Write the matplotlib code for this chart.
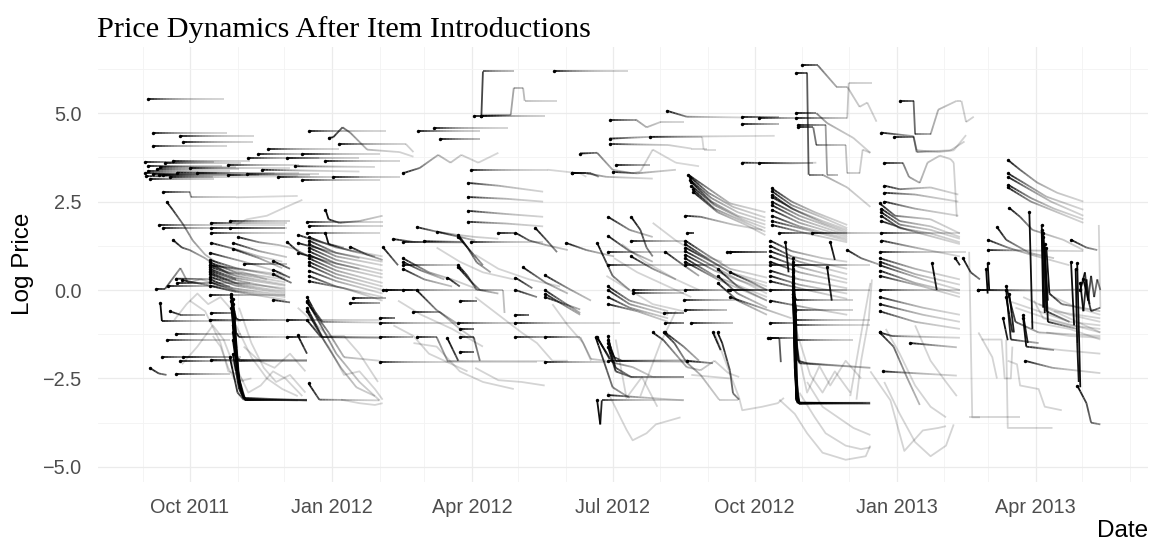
import numpy as np
import matplotlib.pyplot as plt
import matplotlib.dates as mdates
from matplotlib.collections import LineCollection
from matplotlib.ticker import FuncFormatter, NullFormatter

# every item: (days since 2011-09-01, log price); the first point is the introduction
intro_2011_09 = [
    [(3, 5.41), (52, 5.41)],
    [(6, 4.45), (54, 4.45)],
    [(24, 4.36), (72, 4.36)],
    [(26, 4.19), (71, 4.19)],
    [(6, 4.06), (54, 4.06)],
    [(1, 3.62), (46, 3.62)],
    [(3, 3.52), (51, 3.52)],
    [(14, 3.58), (63, 3.58)],
    [(19, 3.66), (69, 3.66)],
    [(11, 3.48), (60, 3.48)],
    [(9, 3.42), (62, 3.42)],
    [(3, 3.36), (56, 3.36)],
    [(1, 3.30), (48, 3.30)],
    [(6, 3.27), (55, 3.27)],
    [(13, 3.24), (63, 3.24)],
    [(17, 3.20), (69, 3.20), (100, 3.22)],
    [(4, 3.14), (46, 3.14)],
    [(2, 3.22), (45, 3.20)],
    [(22, 3.32), (85, 3.30)],
    [(30, 3.45), (95, 3.45)],
    [(10, 3.26), (75, 3.26)],
    [(35, 3.30), (101, 3.30)],
    [(13, 2.78), (30, 2.78), (31, 2.62), (60, 2.62), (100, 2.66)],
    [(15, 2.50), (19, 2.27), (26, 1.84), (32, 1.40), (40, 1.00), (50, 0.70), (65, 0.50), (80, 0.30)],
    [(10, 1.84), (92, 1.84)],
    [(13, 1.75), (92, 1.75)],
    [(19, 1.42), (25, 1.20), (30, 1.13), (40, 0.90), (50, 0.60), (60, 0.30)],
    [(8, 0.03), (14, 0.03), (24, 0.62), (29, 0.20), (37, 0.30), (50, 0.15)],
    [(16, 0.10), (56, 0.10)],
    [(22, 0.20), (69, 0.20)],
    [(21, 0.32), (60, 0.30)],
    [(25, 0.28), (46, 0.10), (60, -0.05)],
    [(11, -0.37), (12, -0.88), (63, -0.88)],
    [(17, -0.60), (24, -0.70), (40, -0.70)],
    [(15, -1.42), (56, -1.42)],
    [(21, -1.25), (63, -1.25)],
    [(12, -1.90), (56, -1.90)],
    [(24, -2.00), (106, -2.00)],
    [(4, -2.20), (10, -2.36), (15, -2.40)],
    [(21, -2.38), (56, -2.38)],
    [(26, -1.90), (63, -1.90)],
]

intro_2011_10 = [
    [(44, 1.90), (93, 1.90)],
    [(56, 1.96), (95, 1.96)],
    [(44, 1.75), (93, 1.75)],
    [(56, 1.75), (92, 1.75)],
    [(44, 1.60), (92, 1.60)],
    [(44, 1.33), (60, 1.15), (75, 0.95), (90, 0.80)],
    [(61, 1.50), (75, 1.35), (88, 1.27), (101, 1.13)],
    [(58, 1.33), (75, 1.10), (93, 0.93)],
    [(58, 1.16), (75, 0.90), (90, 0.62)],
    [(43, 1.05), (65, 0.80), (90, 0.48)],
    [(43, 0.85), (60, 0.62), (92, 0.35)],
    [(43, 0.78), (60, 0.50), (92, 0.30)],
    [(43, 0.72), (55, 0.50), (92, 0.22)],
    [(43, 0.66), (60, 0.40), (92, 0.15)],
    [(43, 0.60), (58, 0.35), (92, 0.12)],
    [(43, 0.55), (60, 0.28), (92, 0.00)],
    [(43, 0.50), (60, 0.20), (92, 0.05)],
    [(43, 0.45), (62, 0.15), (92, -0.05)],
    [(43, 0.38), (60, 0.12), (92, -0.10)],
    [(43, 0.30), (58, 0.05), (92, -0.15)],
    [(43, 0.22), (60, -0.02), (92, -0.20)],
    [(43, 0.12), (60, -0.05), (92, -0.28)],
    [(43, 0.70), (70, 0.55), (92, 0.42)],
    [(65, 0.74), (93, 0.74)],
    [(84, 0.82), (95, 0.60)],
    [(84, 0.57), (95, 0.35)],
    [(84, 0.45), (96, 0.20)],
    [(93, 1.36), (100, 1.10), (110, 0.90)],
    [(43, -0.14), (92, -0.14)],
    [(84, -0.28), (95, -0.35)],
    [(44, -0.65), (58, -0.65)],
    [(43, -0.85), (92, -0.85)],
    [(57, -0.15), (60, -1.50), (62, -2.60), (65, -3.05), (106, -3.12)],
    [(57, -0.30), (60, -1.90), (63, -2.90), (66, -3.08), (106, -3.12)],
    [(58, -0.60), (61, -2.20), (64, -3.00), (67, -3.10), (106, -3.10)],
    [(58, -1.00), (61, -2.40), (65, -3.05), (106, -3.12)],
    [(58, -1.40), (62, -2.70), (66, -3.10), (106, -3.12)],
    [(58, -1.80), (62, -2.80), (66, -3.10), (106, -3.10)],
    [(56, -1.90), (61, -2.90), (65, -3.10), (100, -3.12)],
    [(59, -0.80), (62, -2.50), (66, -3.10), (106, -3.12)],
    [(57, -0.50), (61, -2.30), (65, -3.08), (106, -3.10)],
    [(58, -1.20), (62, -2.60), (66, -3.12), (106, -3.12)],
    [(57, -0.10), (60, -1.95), (62, -2.00), (106, -2.00)],
    [(57, -0.20), (60, -1.90), (63, -1.98), (106, -1.98)],
    [(58, -0.25), (60, -1.20), (62, -1.33), (106, -1.33)],
    [(58, -0.40), (60, -0.80), (62, -0.85), (106, -0.85)],
    [(93, -0.85), (153, -0.85)],
    [(93, -1.33), (153, -1.33)],
    [(44, -1.98), (106, -1.98)],
    [(55, 3.54), (101, 3.54)],
    [(68, 3.72), (114, 3.72)],
    [(74, 3.86), (121, 3.86)],
    [(81, 4.00), (127, 4.00)],
    [(93, 3.74), (140, 3.74)],
    [(87, 3.20), (140, 3.20)],
    [(67, 3.28), (114, 3.28)],
    [(55, 3.24), (108, 3.24)],
    [(77, 3.40), (140, 3.35)],
]

intro_2011_12 = [
    [(103, 3.86), (153, 3.86)],
    [(103, 3.12), (153, 3.12)],
    [(118, 3.65), (166, 3.65)],
    [(123, 3.20), (166, 3.20)],
    [(107, 4.50), (157, 4.50)],
    [(127, 4.13), (170, 4.13), (175, 3.90)],
    [(120, 4.30), (123, 4.32), (129, 4.60), (134, 4.45), (145, 3.97), (166, 3.90), (175, 3.77)],
    [(98, 3.50), (150, 3.48)],
    [(106, 1.93), (155, 1.93)],
    [(107, 1.80), (155, 1.80)],
    [(106, 1.60), (153, 1.60)],
    [(100, 1.56), (115, 1.35), (130, 1.20)],
    [(100, 1.33), (120, 1.10), (140, 0.90)],
    [(100, 1.05), (120, 0.80), (140, 0.60)],
    [(118, 2.27), (120, 2.00), (127, 1.90), (140, 1.95), (155, 2.10)],
    [(118, 1.60), (120, 1.30), (135, 1.10), (150, 0.95)],
    [(107, 1.50), (125, 1.20), (155, 0.95)],
    [(107, 1.40), (125, 1.05), (155, 0.80)],
    [(107, 1.30), (125, 0.95), (155, 0.70)],
    [(107, 1.20), (125, 0.85), (155, 0.55)],
    [(107, 1.10), (125, 0.75), (155, 0.45)],
    [(107, 1.00), (125, 0.65), (155, 0.35)],
    [(107, 0.90), (125, 0.55), (155, 0.20)],
    [(107, 0.80), (125, 0.45), (155, 0.10)],
    [(107, 0.70), (125, 0.35), (155, 0.00)],
    [(107, 0.55), (125, 0.25), (155, -0.10)],
    [(107, 0.40), (125, 0.10), (155, -0.20)],
    [(107, 0.25), (130, 0.05), (155, -0.30)],
    [(134, 1.22), (145, 1.00), (155, 0.85)],
    [(136, -0.23), (157, -0.23)],
    [(155, 0.00), (175, 0.00)],
    [(134, -0.37), (153, -0.37)],
    [(106, -0.20), (111, -0.60), (116, -0.90), (153, -0.92)],
    [(106, -0.50), (116, -1.33), (153, -1.35)],
    [(106, -0.85), (115, -1.33), (153, -1.35)],
    [(106, -0.35), (120, -1.20), (130, -1.90), (153, -2.00)],
    [(106, -0.60), (118, -1.50), (128, -2.20), (138, -2.75), (150, -3.00)],
    [(106, -0.30), (115, -1.00), (125, -1.80), (140, -2.60), (153, -3.12)],
    [(100, -1.28), (106, -1.80)],
    [(107, -2.64), (114, -3.10), (153, -3.12)],
]

intro_2012_02 = [
    [(155, 1.22), (165, 0.70)],
    [(168, 1.36), (207, 1.36)],
    [(162, 1.44), (175, 1.36), (207, 1.34)],
    [(182, 1.38), (207, 1.36)],
    [(212, 1.36), (259, 1.36)],
    [(177, 1.78), (190, 1.65), (203, 1.56), (215, 1.50), (230, 1.45)],
    [(190, 1.65), (200, 1.55), (215, 1.40)],
    [(204, 1.56), (210, 1.20), (216, 0.78), (225, 0.50)],
    [(204, 1.50), (212, 1.10), (220, 0.70)],
    [(230, 1.60), (240, 1.60)],
    [(241, 1.62), (250, 1.40), (261, 1.27), (275, 1.13)],
    [(254, 1.75), (261, 1.42), (268, 1.07)],
    [(274, 1.33), (287, 1.13), (305, 0.95)],
    [(294, 1.33), (304, 0.40), (315, 0.00)],
    [(168, 0.72), (204, 0.72)],
    [(168, 0.90), (185, 0.50), (200, 0.30), (215, 0.05)],
    [(168, 0.80), (180, 0.55), (195, 0.30)],
    [(168, 0.60), (182, 0.30), (200, 0.10)],
    [(157, 0.00), (177, 0.00)],
    [(168, 0.00), (216, 0.00)],
    [(177, 0.00), (190, -0.57), (203, -0.94)],
    [(197, 0.35), (205, 0.10)],
    [(204, 0.70), (210, 0.40), (216, 0.00), (233, 0.00), (234, -0.65)],
    [(204, 0.64), (212, 0.25), (218, 0.00), (230, -0.10)],
    [(205, -0.30), (216, -0.30)],
    [(241, 0.35), (252, 0.05)],
    [(241, 0.00), (255, -0.20)],
    [(246, 0.64), (261, 0.20), (275, -0.10)],
    [(260, 0.42), (275, 0.05), (290, -0.30)],
    [(260, 0.00), (283, -0.65)],
    [(260, -0.10), (283, -0.70)],
    [(260, -0.20), (283, -0.55)],
    [(241, -0.70), (250, -0.70)],
    [(153, -0.80), (163, -0.80)],
    [(153, -0.92), (203, -0.92)],
    [(204, -0.92), (242, -0.92)],
    [(241, -0.92), (309, -0.92)],
    [(175, -0.62), (192, -0.62), (205, -1.10), (215, -1.40)],
    [(205, -1.10), (214, -1.10)],
    [(205, -1.33), (214, -1.33), (218, -2.00)],
    [(153, -1.33), (175, -1.33)],
    [(177, -1.33), (190, -1.33), (197, -2.00), (260, -2.00)],
    [(241, -1.33), (260, -1.33)],
    [(260, -1.33), (283, -1.33), (290, -1.95), (300, -2.00)],
    [(197, -1.37), (204, -2.00)],
    [(205, -1.75), (214, -1.75)],
    [(294, -1.33), (302, -1.95)],
    [(153, -2.03), (255, -2.03)],
    [(260, -2.03), (302, -2.03)],
    [(178, 4.50), (218, 4.50)],
    [(188, 4.58), (236, 4.58)],
    [(192, 4.28), (218, 4.28)],
    [(214, 4.93), (219, 4.93), (220, 6.18), (240, 6.18)],
    [(219, 4.93), (238, 4.95), (240, 5.72), (246, 5.72), (247, 5.35), (268, 5.35)],
    [(219, 4.93), (260, 4.93)],
    [(266, 6.18), (314, 6.18)],
    [(168, 3.30), (179, 3.45), (191, 3.82), (199, 3.60), (206, 3.82), (217, 3.60), (230, 3.88)],
    [(212, 3.40), (262, 3.40), (283, 3.30), (287, 3.20)],
    [(210, 3.03), (230, 2.95), (259, 2.78)],
    [(210, 2.63), (235, 2.58), (259, 2.50)],
    [(210, 2.24), (235, 2.15), (259, 2.07)],
    [(210, 1.93), (235, 1.88), (259, 1.80)],
    [(278, 3.30), (290, 3.30), (295, 3.20)],
]

intro_2012_07 = [
    [(302, 4.82), (319, 4.82), (326, 4.60), (335, 4.75), (350, 4.75)],
    [(302, 4.28), (328, 4.33), (362, 4.33), (363, 3.97), (371, 3.97)],
    [(328, 4.33), (409, 4.36)],
    [(302, 4.13), (340, 4.10), (355, 4.00), (365, 4.00)],
    [(283, 3.86), (294, 3.88), (304, 3.40), (317, 3.30), (322, 3.35), (330, 3.97), (345, 3.60), (360, 3.50)],
    [(306, 3.54), (328, 3.54)],
    [(304, 3.34), (320, 3.30), (345, 3.40)],
    [(278, 3.30), (287, 3.30), (300, 3.20), (330, 3.15)],
    [(339, 5.07), (352, 4.90), (387, 4.88)],
    [(388, 4.90), (412, 4.90)],
    [(388, 4.70), (412, 4.70)],
    [(388, 3.60), (420, 3.58), (436, 3.60)],
    [(353, 3.26), (365, 2.90), (380, 2.45), (403, 2.20)],
    [(354, 3.20), (366, 2.75), (382, 2.35), (403, 2.05)],
    [(354, 3.12), (368, 2.60), (385, 2.20), (403, 1.95)],
    [(355, 3.05), (368, 2.50), (385, 2.10), (403, 1.85)],
    [(355, 2.95), (370, 2.40), (388, 2.00), (403, 1.75)],
    [(356, 2.85), (370, 2.30), (388, 1.95), (403, 1.65)],
    [(356, 2.78), (372, 2.20), (390, 1.85), (403, 1.55)],
    [(351, 2.10), (361, 2.07), (382, 1.85), (401, 1.70)],
    [(301, 2.07), (315, 1.70), (330, 1.50)],
    [(316, 2.07), (322, 1.70), (326, 1.20), (330, 0.95)],
    [(301, 1.53), (315, 1.10), (330, 0.80)],
    [(316, 1.39), (350, 1.39)],
    [(352, 1.60), (357, 1.60)],
    [(301, 1.08), (350, 1.08)],
    [(378, 1.08), (404, 1.08)],
    [(316, 0.95), (330, 0.60), (345, 0.30)],
    [(338, 1.08), (350, 0.70), (360, 0.40)],
    [(301, 0.70), (350, 0.70)],
    [(351, 0.70), (445, 0.70)],
    [(317, 0.00), (350, 0.00)],
    [(351, 0.00), (404, 0.00)],
    [(379, 0.00), (445, 0.00)],
    [(317, -0.08), (350, -0.08)],
    [(350, -0.28), (386, -0.28)],
    [(337, -0.65), (350, -0.65)],
    [(351, -0.57), (378, -0.57)],
    [(338, -0.92), (350, -0.92)],
    [(355, -0.92), (382, -0.92)],
    [(369, -1.20), (374, -1.70)],
    [(338, -1.20), (350, -1.60), (360, -2.00)],
    [(301, 0.10), (315, -0.30), (340, -0.60)],
    [(301, 0.00), (315, -0.40), (340, -0.70)],
    [(301, -0.20), (315, -0.50), (340, -0.80)],
    [(301, -0.40), (320, -0.60), (340, -0.90)],
    [(351, 1.40), (365, 1.00), (380, 0.60), (404, 0.35)],
    [(351, 1.30), (365, 0.90), (380, 0.50), (404, 0.20)],
    [(351, 1.20), (368, 0.80), (385, 0.40), (404, 0.10)],
    [(351, 1.10), (368, 0.70), (385, 0.30), (404, 0.00)],
    [(351, 1.00), (370, 0.55), (390, 0.20), (404, -0.10)],
    [(351, 0.90), (370, 0.40), (404, -0.20)],
    [(351, 0.80), (372, 0.30), (404, -0.30)],
    [(372, 0.60), (385, 0.10), (404, -0.30)],
    [(372, 0.40), (385, -0.10), (404, -0.50)],
    [(372, 0.20), (385, -0.30), (404, -0.70)],
    [(380, 1.08), (404, 1.08)],
    [(380, 0.50), (395, 0.20), (404, 0.00)],
    [(380, 0.00), (445, 0.00)],
    [(380, -0.20), (400, -0.50), (420, -0.80)],
    [(301, -1.30), (303, -1.70), (306, -2.00), (354, -2.00)],
    [(301, -1.40), (305, -1.90), (310, -2.00), (353, -1.98)],
    [(301, -1.50), (306, -2.20), (316, -2.46), (350, -2.46)],
    [(301, -1.60), (306, -2.30), (316, -2.46), (350, -2.46)],
    [(293, -1.33), (304, -2.75), (315, -3.05)],
    [(294, -3.12), (296, -3.80), (297, -3.12), (350, -3.12)],
    [(301, -2.97), (350, -3.12)],
    [(301, -2.00), (361, -2.04)],
    [(294, -1.35), (304, -2.05), (317, -2.18), (330, -2.46), (350, -2.46)],
    [(330, -1.20), (337, -1.42), (352, -2.18), (361, -2.27), (370, -2.00), (379, -2.35), (386, -2.46)],
    [(372, -1.20), (375, -1.50), (380, -2.27), (382, -2.92), (386, -3.10)],
    [(337, -1.20), (344, -1.50), (352, -2.05), (361, -2.40), (373, -3.10), (385, -3.10)],
    [(352, -2.00), (369, -2.07)],
]

intro_2012_10 = [
    [(427, 6.35), (437, 6.35), (449, 5.75), (456, 5.75), (464, 5.18), (469, 5.30), (475, 4.76)],
    [(423, 6.15), (430, 6.15), (431, 3.26), (440, 3.26), (456, 2.90), (471, 2.35)],
    [(423, 5.00), (436, 5.00), (443, 4.72), (460, 4.30), (471, 3.88)],
    [(423, 4.85), (456, 4.85), (457, 5.86), (472, 5.86)],
    [(424, 4.67), (442, 4.67), (443, 3.26), (450, 3.26)],
    [(424, 4.60), (434, 4.60), (436, 4.10), (455, 4.10), (456, 3.30), (464, 3.30), (466, 3.97), (471, 3.88)],
    [(399, 4.87), (423, 4.87)],
    [(399, 3.60), (434, 3.60)],
    [(407, 2.88), (420, 2.50), (435, 2.20), (456, 1.84)],
    [(407, 2.80), (420, 2.40), (440, 2.05), (456, 1.75)],
    [(407, 2.70), (420, 2.30), (440, 1.95), (456, 1.70)],
    [(407, 2.63), (425, 2.20), (440, 1.90), (456, 1.65)],
    [(407, 2.50), (425, 2.10), (456, 1.60)],
    [(407, 2.40), (425, 2.00), (456, 1.55)],
    [(407, 2.27), (425, 1.90), (456, 1.50)],
    [(407, 2.10), (425, 1.80), (456, 1.45)],
    [(407, 1.95), (430, 1.70), (456, 1.40)],
    [(407, 1.84), (430, 1.60), (456, 1.35)],
    [(406, 1.40), (420, 1.10), (440, 0.90), (456, 0.80)],
    [(406, 1.25), (420, 0.95), (440, 0.75), (456, 0.60)],
    [(406, 1.10), (425, 0.80), (456, 0.45)],
    [(406, 0.95), (425, 0.65), (456, 0.30)],
    [(406, 0.80), (425, 0.50), (456, 0.20)],
    [(406, 0.70), (456, 0.70)],
    [(406, 0.55), (425, 0.30), (456, 0.05)],
    [(406, 0.40), (425, 0.15), (456, -0.10)],
    [(406, 0.25), (430, 0.00), (456, -0.25)],
    [(406, 0.00), (456, 0.00)],
    [(406, -0.92), (421, -0.92)],
    [(406, -1.35), (421, -1.35)],
    [(406, -0.30), (430, -0.50), (456, -0.70)],
    [(421, 0.80), (422, -1.50), (423, -3.10), (424, -3.20), (471, -3.20)],
    [(421, 0.60), (422, -2.00), (424, -3.20), (471, -3.20)],
    [(421, 0.40), (423, -2.50), (425, -3.20), (471, -3.22)],
    [(421, 0.20), (423, -2.80), (425, -3.20), (471, -3.20)],
    [(421, 0.00), (423, -3.00), (425, -3.20), (471, -3.18)],
    [(421, -0.20), (423, -3.10), (425, -3.22), (471, -3.22)],
    [(421, -0.40), (423, -3.10), (425, -3.20), (466, -3.20)],
    [(422, -0.60), (424, -3.15), (426, -3.20), (471, -3.20)],
    [(421, 0.90), (422, -2.20), (424, -3.18), (471, -3.20)],
    [(421, -0.10), (423, -2.90), (425, -3.20), (468, -3.20)],
    [(421, 0.70), (423, -1.00), (424, -2.00), (430, -2.07), (471, -2.20)],
    [(421, 0.30), (423, -1.50), (425, -2.07), (471, -2.20)],
    [(421, 0.50), (422, -0.40), (423, -1.42), (460, -1.42)],
    [(421, 0.10), (423, -0.85), (471, -0.85)],
    [(421, 0.00), (423, -0.57), (460, -0.57)],
    [(421, -0.10), (423, -0.28), (460, -0.28)],
    [(421, 0.70), (471, 0.70)],
    [(421, 0.00), (471, 0.00)],
    [(421, 0.20), (423, -1.00), (471, -1.00)],
    [(416, 1.36), (418, 0.50)],
    [(445, 1.36), (448, 0.85)],
    [(443, 0.65), (446, -0.30)],
    [(456, 1.13), (465, 0.90), (478, 0.70)],
    [(405, -1.36), (412, -1.36), (413, -2.04)],
    [(433, 1.60), (478, 1.60)],
    [(412, 1.60), (456, 1.60)],
]

intro_2012_12 = [
    [(477, 2.45), (487, 2.10), (510, 2.00), (529, 1.60)],
    [(478, 2.30), (490, 1.95), (510, 1.80), (529, 1.50)],
    [(478, 2.20), (490, 1.85), (510, 1.70), (529, 1.45)],
    [(478, 2.10), (490, 1.75), (510, 1.60), (529, 1.35)],
    [(478, 1.95), (495, 1.70), (529, 1.30)],
    [(478, 1.60), (529, 1.60)],
    [(478, 1.40), (500, 1.20), (529, 0.95)],
    [(477, 1.08), (533, 1.08)],
    [(477, 0.90), (500, 0.60), (529, 0.30)],
    [(477, 0.80), (500, 0.45), (529, 0.15)],
    [(477, 0.70), (505, 0.30), (529, 0.00)],
    [(477, 0.55), (500, 0.20), (529, -0.10)],
    [(477, 0.40), (505, 0.10), (529, -0.20)],
    [(477, 0.00), (529, 0.00)],
    [(477, -0.20), (505, -0.50), (529, -0.70)],
    [(477, -0.40), (505, -0.70), (529, -0.90)],
    [(477, -0.60), (500, -0.90), (529, -1.10)],
    [(477, -1.20), (485, -1.30), (529, -1.35)],
    [(479, -2.30), (527, -2.42)],
    [(477, -1.20), (486, -1.60), (495, -2.50), (503, -3.25)],
    [(497, -1.50), (527, -1.62)],
    [(511, 0.76), (514, 0.00)],
    [(526, 0.90), (529, 0.70)],
    [(478, 4.45), (499, 4.35), (501, 3.95), (515, 3.90), (525, 3.95), (533, 4.38)],
    [(490, 5.35), (499, 5.35), (500, 4.40), (510, 4.40), (515, 5.10), (527, 5.35), (530, 5.35), (533, 4.75), (538, 4.90)],
    [(486, 4.33), (499, 4.33), (501, 3.90), (523, 3.95), (532, 4.20)],
    [(480, 3.60), (492, 3.60), (496, 3.20), (503, 3.03), (508, 3.60), (516, 3.80), (523, 3.70), (525, 3.60), (527, 2.07)],
    [(480, 2.95), (490, 2.85), (510, 2.90), (528, 2.70)],
    [(480, 2.75), (500, 2.70), (528, 2.50)],
    [(480, 2.50), (500, 2.30), (528, 2.10)],
    [(531, 0.90), (536, 0.50), (542, 0.30)],
]

intro_2013_03 = [
    [(560, 3.68), (568, 3.40), (579, 3.04), (592, 2.75), (609, 2.50)],
    [(560, 3.30), (570, 3.04), (585, 2.64), (609, 2.27)],
    [(560, 3.20), (572, 2.90), (588, 2.50), (609, 2.10)],
    [(560, 2.98), (575, 2.60), (590, 2.30), (609, 2.00)],
    [(560, 2.90), (575, 2.50), (592, 2.20), (609, 1.90)],
    [(561, 2.32), (568, 2.07), (576, 1.70), (596, 1.42), (609, 1.13)],
    [(601, 1.42), (611, 1.20), (618, 1.13)],
    [(547, 1.42), (560, 1.20), (575, 1.00), (600, 0.70)],
    [(547, 1.13), (609, 1.10)],
    [(553, 1.78), (559, 1.42), (574, 1.05), (590, 0.90)],
    [(547, 0.75), (548, 0.00)],
    [(546, 0.60), (547, -0.10)],
    [(541, 0.00), (609, 0.00)],
    [(541, 0.00), (583, -0.02), (609, 0.02)],
    [(559, -0.20), (563, -1.20)],
    [(557, -0.80), (560, -1.42)],
    [(559, 0.10), (565, -0.90), (580, -1.20), (620, -1.30)],
    [(559, 0.00), (562, -1.40), (580, -1.50)],
    [(561, -0.10), (564, -1.20)],
    [(570, -0.70), (573, -1.50)],
    [(570, -0.80), (572, -1.60), (590, -1.70)],
    [(574, 2.20), (576, -1.10)],
    [(582, 1.84), (584, -0.65)],
    [(582, 1.70), (583, -0.50)],
    [(583, 1.60), (586, -0.30)],
    [(583, 1.50), (585, -0.60), (600, -0.90)],
    [(584, 1.30), (586, -0.90), (605, -1.10)],
    [(585, 1.20), (587, -0.10), (595, -0.40), (620, -0.60)],
    [(605, 0.75), (607, -2.75)],
    [(604, 0.60), (605, -1.50), (606, -2.60)],
    [(601, 0.80), (603, -1.00)],
    [(607, 0.00), (610, 0.50), (612, -0.30), (614, 0.40), (616, -0.20), (618, 0.30), (620, 0.00)],
    [(607, 0.20), (609, -0.60), (611, 0.30), (613, -0.40)],
    [(571, -2.00), (589, -2.20), (620, -2.35)],
    [(605, -2.70), (611, -3.20), (614, -3.75), (620, -3.80)],
    [(609, 0.30), (614, -0.60), (620, -0.50)],
]

# later stretches of items whose introduction lies outside the visible strokes
tails = [
    [(20, -0.85), (28, -0.40), (35, -0.10), (42, -0.40), (50, -0.20), (58, -0.60)],
    [(25, -2.10), (35, -1.60), (45, -1.00), (52, -1.40), (60, -2.30), (65, -2.60)],
    [(30, -0.30), (40, -0.60), (50, -1.50), (55, -2.30), (62, -2.40)],
    [(60, -1.00), (70, -1.90), (80, -2.50), (90, -2.80), (100, -3.00)],
    [(62, -0.50), (70, -1.50), (78, -2.20), (86, -2.60), (95, -2.40), (105, -2.90)],
    [(58, -2.00), (68, -2.90), (76, -2.70), (84, -2.30), (92, -2.50), (103, -3.00)],
    [(65, -1.60), (75, -2.00), (85, -2.20), (95, -1.80), (105, -2.30)],
    [(45, -1.30), (50, -1.60), (55, -2.20), (60, -2.60), (70, -2.50)],
    [(60, 1.84), (67, 2.00), (80, 2.10), (90, 2.30), (103, 2.55)],
    [(128, -3.10), (140, -3.20), (150, -3.25), (155, -3.20)],
    [(110, -1.00), (120, -1.60), (130, -2.40), (140, -2.30), (150, -2.80), (155, -3.10)],
    [(100, -0.50), (110, -0.90), (120, -1.30), (130, -1.30), (140, -1.80), (152, -2.60)],
    [(190, 1.20), (205, 0.80), (220, 0.50), (240, 0.30)],
    [(215, 1.00), (230, 0.60), (250, 0.30), (270, 0.10)],
    [(215, -2.20), (230, -2.55), (245, -2.60), (260, -2.70)],
    [(175, -1.50), (190, -1.60), (205, -2.30), (220, -2.60), (240, -2.80)],
    [(162, -1.00), (175, -1.30), (185, -1.80), (195, -2.00), (210, -2.30)],
    [(215, -0.20), (230, -0.70), (245, -1.20), (255, -1.50), (265, -2.00), (275, -2.00)],
    [(265, -0.40), (275, -1.00), (285, -1.50), (290, -2.00)],
    [(165, -0.30), (180, -0.70), (200, -1.10), (220, -1.60)],
    [(305, 0.90), (320, 0.50), (340, 0.10), (355, -0.20)],
    [(310, 1.30), (325, 0.80), (345, 0.30), (360, 0.00)],
    [(300, 0.40), (315, 0.00), (330, -0.40), (350, -0.60)],
    [(330, 1.90), (345, 1.40), (360, 1.00), (375, 0.80)],
    [(301, -2.90), (313, -3.95), (317, -4.25), (326, -4.05), (332, -3.80), (348, -3.60)],
    [(306, -1.40), (313, -3.05), (323, -2.46), (333, -3.30)],
    [(370, -1.20), (386, -3.05), (388, -3.40), (401, -3.30), (411, -3.20), (415, -3.05)],
    [(355, -2.40), (380, -2.50)],
    [(322, -3.00), (335, -1.50), (345, -0.60)],
    [(423, -1.50), (430, -2.90), (438, -2.15), (445, -2.70), (455, -2.00), (465, -2.50)],
    [(422, -1.00), (432, -2.40), (440, -2.90), (448, -2.30), (458, -2.90)],
    [(462, -3.10), (465, -2.00), (470, -0.80), (472, 0.30)],
    [(458, -3.00), (466, -1.00), (471, 0.20)],
    [(412, -3.10), (422, -3.50), (430, -4.05), (440, -4.60), (455, -4.80), (468, -4.70), (471, -4.40)],
    [(425, -2.90), (435, -3.60), (442, -4.05), (455, -4.40), (465, -4.50), (471, -4.45)],
    [(430, -2.60), (440, -3.30), (450, -3.60), (460, -3.90), (471, -4.10)],
    [(471, -2.30), (484, -3.12), (493, -4.55), (505, -3.97), (515, -3.90), (520, -3.85)],
    [(480, -2.60), (490, -3.50), (500, -4.30), (510, -4.70), (520, -4.40), (525, -3.80)],
    [(500, -1.00), (510, -2.00), (520, -2.60), (527, -3.00)],
    [(481, -1.10), (490, -1.80), (500, -2.70), (510, -3.30), (520, -3.60)],
    [(535, 1.08), (537, -3.60), (542, -3.60)],
    [(535, -3.60), (568, -3.60)],
    [(559, -1.40), (560, -3.90), (589, -3.90)],
    [(543, -1.40), (556, -1.40), (558, -2.50), (562, -2.50), (563, -1.60)],
    [(541, -1.20), (550, -1.90), (553, -2.50)],
    [(560, -0.30), (580, -0.60), (600, -0.90), (620, -1.00)],
    [(565, -0.50), (585, -0.80), (620, -1.20)],
    [(580, -0.40), (600, -0.70), (620, -0.90)],
    [(575, -0.90), (600, -1.10), (620, -1.40)],
    [(590, -0.20), (605, -0.50), (620, -0.70)],
    [(577, -0.30), (583, -0.80), (600, -1.00), (620, -1.10)],
    [(570, -0.20), (590, -0.60), (620, -0.80)],
    [(590, -0.60), (605, -0.90), (620, -1.20)],
    [(585, -1.20), (600, -1.30), (620, -1.35)],
    [(575, -1.60), (595, -1.70), (620, -1.80)],
    [(560, -2.00), (566, -2.10), (568, -2.70), (580, -2.80), (584, -3.30), (595, -3.40)],
    [(619, 1.84), (620, -0.50)],
]

cohorts = [intro_2011_09, intro_2011_10, intro_2011_12, intro_2012_02,
           intro_2012_07, intro_2012_10, intro_2012_12, intro_2013_03]

origin = mdates.date2num(np.datetime64('2011-09-01'))


def fade(age):
    # near black right after the introduction, light grey later on
    return float(0.15 + 0.85 * np.exp(-age / 14.0))


segs, cols, heads = [], [], []
for cohort in cohorts:
    for item in cohort:
        pts = np.array(item, dtype=float)
        d0 = pts[0, 0]
        heads.append(pts[0])
        for (xa, ya), (xb, yb) in zip(pts[:-1], pts[1:]):
            # cut each straight piece so its shade can fade along it
            n = int(np.ceil((xb - xa) / 2.0)) if xa - d0 < 70 else 1
            n = max(n, 1)
            t = np.linspace(0.0, 1.0, n + 1)
            xs = xa + t * (xb - xa)
            ys = ya + t * (yb - ya)
            for i in range(n):
                age = 0.5 * (xs[i] + xs[i + 1]) - d0
                segs.append([(origin + xs[i], ys[i]), (origin + xs[i + 1], ys[i + 1])])
                cols.append((0, 0, 0, fade(age)))
heads = np.array(heads)

tail_lines = [[(origin + d, v) for d, v in item] for item in tails]

fig = plt.figure(figsize=(11.5, 5.43), dpi=100)
ax = fig.add_axes([0.0852, 0.1129, 0.9131, 0.8011])

ax.add_collection(LineCollection(tail_lines, colors=(0, 0, 0, 0.17), linewidths=1.3, zorder=2))
ax.add_collection(LineCollection(segs, colors=cols, linewidths=1.3, capstyle='butt', zorder=2))
ax.scatter(origin + heads[:, 0], heads[:, 1], s=6, c='black', linewidths=0, zorder=3)

ax.set_xlim(origin - 29.4, origin + 650.9)
ax.set_ylim(-5.42, 6.88)

ax.xaxis.set_major_locator(mdates.MonthLocator(bymonth=[1, 4, 7, 10]))
ax.xaxis.set_minor_locator(mdates.MonthLocator())
ax.xaxis.set_major_formatter(mdates.DateFormatter('%b %Y'))
ax.xaxis.set_minor_formatter(NullFormatter())
ax.set_yticks([-5, -2.5, 0, 2.5, 5])
ax.set_yticks([-3.75, -1.25, 1.25, 3.75, 6.25], minor=True)
ax.yaxis.set_major_formatter(FuncFormatter(lambda v, _: f'{v:.1f}'.replace('-', '\u2212')))

ax.grid(which='major', color='#EBEBEB', linewidth=0.9)
ax.grid(which='minor', color='#F3F3F3', linewidth=0.6)
ax.set_axisbelow(True)
for s in ax.spines.values():
    s.set_visible(False)
ax.tick_params(which='both', length=0)
ax.tick_params(axis='x', pad=12, labelsize=14.3, labelcolor='#4D4D4D')
ax.tick_params(axis='y', pad=12, labelsize=14.3, labelcolor='#4D4D4D')
for lab in ax.get_xticklabels() + ax.get_yticklabels():
    lab.set_fontfamily('Liberation Sans')

fig.text(0.0843, 0.9324, 'Price Dynamics After Item Introductions',
         family='Liberation Serif', fontsize=21.8, ha='left', va='baseline')
fig.text(0.9983, 0.011, 'Date', family='Liberation Sans', fontsize=17.5,
         ha='right', va='baseline')
fig.text(0.02, 0.514, 'Log Price', family='Liberation Sans', fontsize=17.5,
         rotation=90, ha='center', va='center')

fig.savefig('out.png', dpi=100)
